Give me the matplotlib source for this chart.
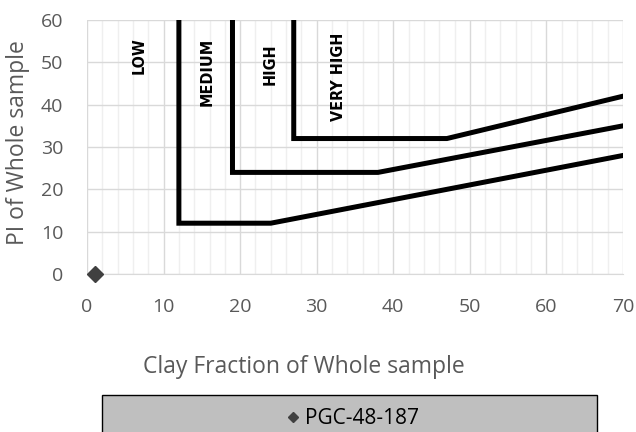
import matplotlib.pyplot as plt
from matplotlib.ticker import MultipleLocator
from matplotlib.patches import Rectangle

# plasticity chart boundaries (clay fraction, PI)
low_x = [12, 12, 24, 70]
low_y = [60, 12, 12, 28]
med_x = [19, 19, 38, 70]
med_y = [60, 24, 24, 35]
high_x = [27, 27, 47, 70]
high_y = [60, 32, 32, 42]

zone_names = ['LOW', 'MEDIUM', 'HIGH', 'VERY HIGH']
zone_x = [6.8, 15.7, 23.9, 32.9]
zone_y = [51.5, 47.8, 49.6, 46.5]

sample_name = 'PGC-48-187'
sample_clay = [1]
sample_pi = [0]

grey = '#595959'

fig = plt.figure(figsize=(6.36, 4.32), dpi=100)
ax = fig.add_axes([87/636, 1-274/432, 536/636, 254/432])

for xs, ys in [(low_x, low_y), (med_x, med_y), (high_x, high_y)]:
    ax.plot(xs, ys, color='black', lw=3.6, solid_joinstyle='miter', zorder=3)

for name, x, y in zip(zone_names, zone_x, zone_y):
    ax.text(x, y, name, rotation=90, ha='center', va='center',
            fontsize=11.5, fontweight='bold', fontstretch='condensed',
            family='DejaVu Sans', zorder=4)

ax.plot(sample_clay, sample_pi, 'D', color='#404040', ms=8, ls='none',
        clip_on=False, zorder=5, label=sample_name)

ax.set_xlim(0, 70)
ax.set_ylim(0, 60)
ax.xaxis.set_major_locator(MultipleLocator(10))
ax.xaxis.set_minor_locator(MultipleLocator(2))
ax.yaxis.set_major_locator(MultipleLocator(10))
ax.grid(which='major', color='#D9D9D9', lw=1.0, zorder=0)
ax.grid(which='minor', axis='x', color='#EFEFEF', lw=1.0, zorder=0)
ax.set_axisbelow(True)
for s in ax.spines.values():
    s.set_visible(False)
ax.spines['bottom'].set_visible(True)
ax.spines['bottom'].set_color('#D9D9D9')

ax.tick_params(which='both', length=0)
ax.tick_params(axis='x', pad=17)
ax.tick_params(axis='y', pad=17)
for lab in ax.get_xticklabels() + ax.get_yticklabels():
    lab.set_family('Open Sans')
    lab.set_fontsize(14)
    lab.set_color(grey)

fig.text(304/636, 1-367/432, 'Clay Fraction of Whole sample', ha='center',
         va='center', fontsize=16.5, color=grey, family='Open Sans')
fig.text(18/636, 1-142.5/432, 'PI of Whole sample', ha='center', va='center',
         rotation=90, fontsize=16.5, color=grey, family='Open Sans')

# legend band along the bottom
fig.patches.append(Rectangle((102/636, -0.05), 495/636, 0.05 + 1-395/432,
                             transform=fig.transFigure, facecolor='#BFBFBF',
                             edgecolor='black', lw=1.0, zorder=-1))
leg = fig.legend(handles=ax.get_lines()[-1:], loc='center',
                 bbox_to_anchor=(353/636, 1-419/432), frameon=False,
                 handlelength=0.6, handletextpad=0.3, markerscale=0.6,
                 prop={'family': 'Open Sans', 'size': 15})

fig.savefig('out.png', dpi=100)
